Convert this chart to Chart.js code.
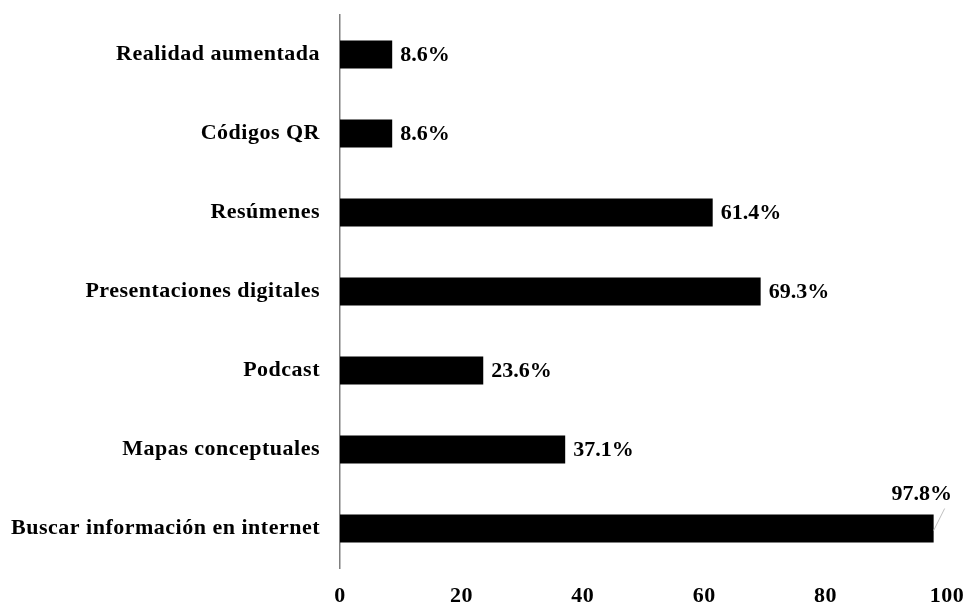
<!DOCTYPE html>
<html>
<head>
<meta charset="utf-8">
<script src="https://cdn.jsdelivr.net/npm/chart.js@4"></script>
<style>
  html, body { margin: 0; padding: 0; background: #fff; }
  #chart { display: block; }
</style>
</head>
<body>
<canvas id="chart" width="976" height="603"></canvas>
<script>
const categories = [
  'Realidad aumentada',
  'Códigos QR',
  'Resúmenes',
  'Presentaciones digitales',
  'Podcast',
  'Mapas conceptuales',
  'Buscar información en internet'
];
const percentValues = [8.6, 8.6, 61.4, 69.3, 23.6, 37.1, 97.8];
const xTicks = [0, 20, 40, 60, 80, 100];

const serifBold = { family: "'Liberation Serif', 'Times New Roman', serif", size: 22, weight: 'bold' };

// slightly wider lettering like the original picture
const spacing = {
  id: 'spacing',
  beforeDraw(chart) { chart.ctx.letterSpacing = '0.5px'; }
};

// draws "xx.x%" next to each bar; if it would not fit, put it above with a leader line
const valueLabels = {
  id: 'valueLabels',
  afterDatasetsDraw(chart) {
    const ctx = chart.ctx;
    const meta = chart.getDatasetMeta(0);
    ctx.save();
    ctx.letterSpacing = '0px';
    ctx.font = 'bold 22px "Liberation Serif", "Times New Roman", serif';
    ctx.fillStyle = '#000';
    ctx.textBaseline = 'middle';
    meta.data.forEach((bar, i) => {
      const text = percentValues[i].toFixed(1) + '%';
      const w = ctx.measureText(text).width;
      if (bar.x + 8 + w > chart.width - 4) {
        ctx.strokeStyle = '#bfbfbf';
        ctx.lineWidth = 1;
        ctx.beginPath();
        ctx.moveTo(bar.x, bar.y + 2);
        ctx.lineTo(bar.x + 11, bar.y - 20);
        ctx.stroke();
        ctx.textAlign = 'center';
        ctx.fillText(text, bar.x - 12, bar.y - 34);
      } else {
        ctx.textAlign = 'left';
        ctx.fillText(text, bar.x + 8, bar.y + 1);
      }
    });
    ctx.restore();
  }
};

new Chart(document.getElementById('chart'), {
  type: 'bar',
  data: {
    labels: categories,
    datasets: [{
      data: percentValues,
      backgroundColor: '#000',
      borderWidth: 0,
      barPercentage: 0.354,
      categoryPercentage: 1
    }]
  },
  options: {
    indexAxis: 'y',
    responsive: false,
    animation: false,
    layout: { padding: { top: 15, right: 29, left: 0, bottom: 0 } },
    plugins: {
      legend: { display: false },
      tooltip: { enabled: false }
    },
    scales: {
      x: {
        min: 0,
        max: 100,
        afterBuildTicks: axis => { axis.ticks = xTicks.map(v => ({ value: v })); },
        afterFit: axis => {
          axis.height = 35;
          axis.paddingLeft = 0;
          axis.paddingRight = 0;
        },
        grid: { display: false, drawTicks: false },
        border: { display: false },
        ticks: { color: '#000', font: serifBold, padding: 15 }
      },
      y: {
        afterFit: axis => {
          axis.width = 340;
          axis.paddingTop = 0;
          axis.paddingBottom = 0;
        },
        grid: { display: false, drawTicks: false },
        border: { display: true, color: '#7f7f7f', width: 1.5 },
        ticks: { color: '#000', font: serifBold, padding: 20 }
      }
    }
  },
  plugins: [spacing, valueLabels]
});
</script>
</body>
</html>
